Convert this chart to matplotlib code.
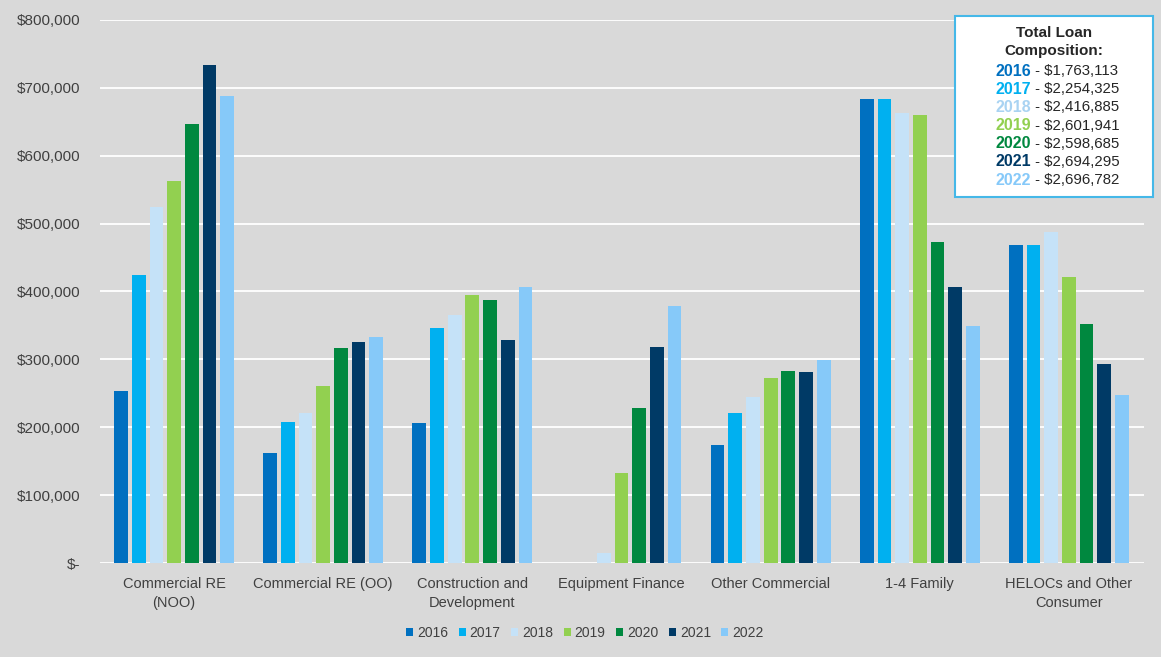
import numpy as np
import matplotlib
matplotlib.use("Agg")
import matplotlib.pyplot as plt
from matplotlib.ticker import FuncFormatter
from matplotlib.patches import Rectangle

plt.rcParams['font.family'] = ['Liberation Sans', 'DejaVu Sans']

categories = ["Commercial RE\n(NOO)", "Commercial RE (OO)", "Construction and\nDevelopment",
              "Equipment Finance", "Other Commercial", "1-4 Family", "HELOCs and Other\nConsumer"]
years = ["2016", "2017", "2018", "2019", "2020", "2021", "2022"]

loans_2016 = [254000, 162500, 206000, 0, 174500, 683500, 468000]
loans_2017 = [424500, 207500, 346000, 0, 221500, 683500, 468000]
loans_2018 = [524500, 220500, 365500, 14000, 245000, 663500, 487500]
loans_2019 = [562500, 261000, 394500, 132000, 272000, 660000, 421000]
loans_2020 = [647000, 316500, 387000, 229000, 282500, 473500, 352000]
loans_2021 = [733800, 325600, 328000, 318000, 281500, 406500, 292800]
loans_2022 = [688500, 332500, 407000, 379000, 298500, 348500, 247500]

totals = ["$1,763,113", "$2,254,325", "$2,416,885", "$2,601,941",
          "$2,598,685", "$2,694,295", "$2,696,782"]

series = [loans_2016, loans_2017, loans_2018, loans_2019, loans_2020, loans_2021, loans_2022]
colors = ["#0070C0", "#00B0F0", "#C5E2F8", "#92D050", "#00883F", "#003A66", "#86C9F9"]

bg = "#D9D9D9"
txt = "#404040"

W, H = 1161, 657
fig = plt.figure(figsize=(W / 100, H / 100), dpi=100, facecolor=bg)
ax = fig.add_axes([99.5 / W, 94 / H, 1044 / W, 543 / H], facecolor=bg)

x = np.arange(len(categories))
pitch = 0.1185
width = 0.092
for i, (vals, c, yr) in enumerate(zip(series, colors, years)):
    ax.bar(x + (i - 3) * pitch, vals, width=width, color=c, label=yr, zorder=3)

ax.set_xlim(-0.5, len(categories) - 0.5)
ax.set_ylim(0, 800000)
ax.set_yticks(np.arange(0, 800001, 100000))
ax.yaxis.set_major_formatter(FuncFormatter(lambda v, p: "$-" if v == 0 else f"${v:,.0f}"))
ax.set_xticks(x)
ax.set_xticklabels(categories, linespacing=1.45)
ax.grid(axis='y', color='white', linewidth=1.3, zorder=0)
ax.set_axisbelow(True)
for s in ax.spines.values():
    s.set_visible(False)
ax.tick_params(axis='both', length=0, labelsize=10.5, colors=txt)
ax.tick_params(axis='y', pad=14, labelsize=11)
ax.tick_params(axis='x', pad=10)

# Series legend along the bottom
fig.legend(loc='center', bbox_to_anchor=(585 / W, 1 - 633 / H), ncol=7, frameon=False,
           handlelength=0.5, handleheight=0.5, handletextpad=0.3, columnspacing=0.75,
           fontsize=10, labelcolor=txt)

# Totals box in the upper right
bx0, by0, bx1, by1 = 955, 16, 1153, 197
fig.patches.append(Rectangle((bx0 / W, 1 - by1 / H), (bx1 - bx0) / W, (by1 - by0) / H,
                             transform=fig.transFigure, facecolor='white',
                             edgecolor='#45B8E8', linewidth=1.5, zorder=5))
cx = 1054
fig.text(cx / W, 1 - 33 / H, "Total Loan", ha='center', va='center', fontsize=11,
         fontweight='bold', color='#262626', zorder=6)
fig.text(cx / W, 1 - 51 / H, "Composition:", ha='center', va='center', fontsize=11,
         fontweight='bold', color='#262626', zorder=6)
split = 1031
for i, (yr, tot, c) in enumerate(zip(years, totals, colors)):
    yy = 1 - (71 + i * 18.2) / H
    yc = c if c != "#C5E2F8" else "#A9D3F2"
    fig.text(split / W, yy, yr, ha='right', va='center', fontsize=11.5, fontweight='bold',
             color=yc, zorder=6)
    fig.text(split / W, yy, " - " + tot, ha='left', va='center', fontsize=10.8,
             color='#262626', zorder=6)

fig.savefig("out.png", dpi=100, facecolor=bg)
